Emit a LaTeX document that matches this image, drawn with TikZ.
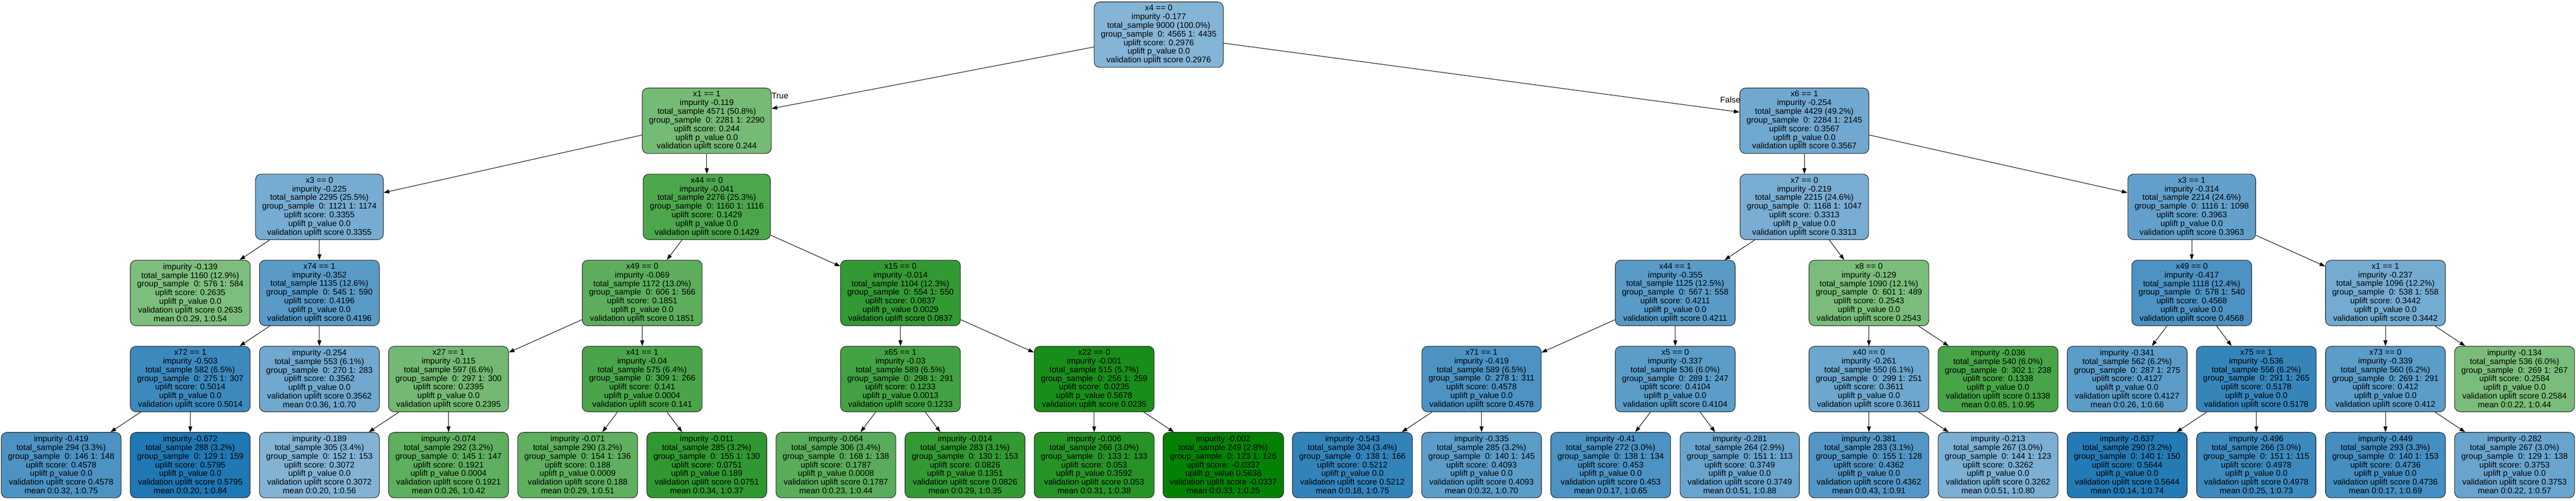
\documentclass[tikz,border=0pt]{standalone}
\usepackage{fontspec}
\setmainfont{Liberation Sans}
\usetikzlibrary{arrows.meta}
\definecolor{tabblue}{HTML}{1F77B4}
\definecolor{darkgreen}{HTML}{008000}
\tikzstyle{arrow} = [line width=1.2pt,-{Triangle[length=13pt,width=9pt]}]
\tikzset{
treenode/.style={rectangle, rounded corners=13pt, draw=black!85, line width=1.3pt, align=center, minimum height=151pt, inner xsep=15.5pt, font=\fontsize{19}{20}\selectfont},
bluenode/.style={treenode, fill=tabblue!#1!white},
greennode/.style={treenode, fill=darkgreen!#1!white},
edgelabel/.style={inner sep=0pt, font=\fontsize{19}{20}\selectfont}}
\newcommand{\condtext}[7]{#1\\impurity #2\\total\_sample #3\\group\_sample~ 0: #4 1: #5\\uplift score: #6\\uplift p\_value #7\\validation uplift score #6}
\newcommand{\leaftext}[7]{impurity #1\\total\_sample #2\\group\_sample~ 0: #3 1: #4\\uplift score: #5\\uplift p\_value #6\\validation uplift score #5\\mean #7}

\begin{document}
\begin{tikzpicture}[x=297.7pt, y=-198.6pt]
\useasboundingbox (-0.47363,-0.40282) rectangle (19.4760,5.41289);
%Nodes
\node[bluenode=55]  (x4)   at (8.5,0)  {\condtext{x4 == 0}{-0.177}{9000 (100.0\%)}{4565}{4435}{0.2976}{0.0}};

\node[greennode=54] (x1)   at (5,1)    {\condtext{x1 == 1}{-0.119}{4571 (50.8\%)}{2281}{2290}{0.244}{0.0}};
\node[bluenode=64]  (x6)   at (13.5,1) {\condtext{x6 == 1}{-0.254}{4429 (49.2\%)}{2284}{2145}{0.3567}{0.0}};

\node[bluenode=61]  (x3a)  at (2,2)    {\condtext{x3 == 0}{-0.225}{2295 (25.5\%)}{1121}{1174}{0.3355}{0.0}};
\node[greennode=70] (x44a) at (5,2)    {\condtext{x44 == 0}{-0.041}{2276 (25.3\%)}{1160}{1116}{0.1429}{0.0}};
\node[bluenode=60]  (x7)   at (13.5,2) {\condtext{x7 == 0}{-0.219}{2215 (24.6\%)}{1168}{1047}{0.3313}{0.0}};
\node[bluenode=70]  (x3b)  at (16.5,2) {\condtext{x3 == 1}{-0.314}{2214 (24.6\%)}{1116}{1098}{0.3963}{0.0}};

\node[greennode=51] (leafA) at (1,3)   {\leaftext{-0.139}{1160 (12.9\%)}{576}{584}{0.2635}{0.0}{0:0.29, 1:0.54}};
\node[bluenode=74]  (x74)  at (2,3)    {\condtext{x74 == 1}{-0.352}{1135 (12.6\%)}{545}{590}{0.4196}{0.0}};
\node[greennode=64] (x49a) at (4.5,3)  {\condtext{x49 == 0}{-0.069}{1172 (13.0\%)}{606}{566}{0.1851}{0.0}};
\node[greennode=80] (x15)  at (6.5,3)  {\condtext{x15 == 0}{-0.014}{1104 (12.3\%)}{554}{550}{0.0837}{0.0029}};
\node[bluenode=74]  (x44b) at (12.5,3) {\condtext{x44 == 1}{-0.355}{1125 (12.5\%)}{567}{558}{0.4211}{0.0}};
\node[greennode=52] (x8)   at (14,3)   {\condtext{x8 == 0}{-0.129}{1090 (12.1\%)}{601}{489}{0.2543}{0.0}};
\node[bluenode=80]  (x49b) at (16.5,3) {\condtext{x49 == 0}{-0.417}{1118 (12.4\%)}{578}{540}{0.4568}{0.0}};
\node[bluenode=62]  (x1b)  at (18,3)   {\condtext{x1 == 1}{-0.237}{1096 (12.2\%)}{538}{558}{0.3442}{0.0}};

\node[bluenode=87]  (x72)  at (1,4)    {\condtext{x72 == 1}{-0.503}{582 (6.5\%)}{275}{307}{0.5014}{0.0}};
\node[bluenode=64]  (leafB) at (2,4)   {\leaftext{-0.254}{553 (6.1\%)}{270}{283}{0.3562}{0.0}{0:0.36, 1:0.70}};
\node[greennode=55] (x27)  at (3,4)    {\condtext{x27 == 1}{-0.115}{597 (6.6\%)}{297}{300}{0.2395}{0.0}};
\node[greennode=71] (x41)  at (4.5,4)  {\condtext{x41 == 1}{-0.04}{575 (6.4\%)}{309}{266}{0.141}{0.0004}};
\node[greennode=74] (x65)  at (6.5,4)  {\condtext{x65 == 1}{-0.03}{589 (6.5\%)}{298}{291}{0.1233}{0.0013}};
\node[greennode=90] (x22)  at (8,4)    {\condtext{x22 == 0}{-0.001}{515 (5.7\%)}{256}{259}{0.0235}{0.5678}};
\node[bluenode=80]  (x71)  at (11,4)   {\condtext{x71 == 1}{-0.419}{589 (6.5\%)}{278}{311}{0.4578}{0.0}};
\node[bluenode=73]  (x5)   at (12.5,4) {\condtext{x5 == 0}{-0.337}{536 (6.0\%)}{289}{247}{0.4104}{0.0}};
\node[bluenode=65]  (x40)  at (14,4)   {\condtext{x40 == 0}{-0.261}{550 (6.1\%)}{299}{251}{0.3611}{0.0}};
\node[greennode=72] (leafC) at (15,4)  {\leaftext{-0.036}{540 (6.0\%)}{302}{238}{0.1338}{0.0}{0:0.85, 1:0.95}};
\node[bluenode=73]  (leafD) at (16,4)  {\leaftext{-0.341}{562 (6.2\%)}{287}{275}{0.4127}{0.0}{0:0.26, 1:0.66}};
\node[bluenode=90]  (x75)  at (17,4)   {\condtext{x75 == 1}{-0.536}{556 (6.2\%)}{291}{265}{0.5178}{0.0}};
\node[bluenode=73]  (x73)  at (18,4)   {\condtext{x73 == 0}{-0.339}{560 (6.2\%)}{269}{291}{0.412}{0.0}};
\node[greennode=52] (leafE) at (19,4)  {\leaftext{-0.134}{536 (6.0\%)}{269}{267}{0.2584}{0.0}{0:0.22, 1:0.44}};

\node[bluenode=80]  (l0)  at (0,5)  {\leaftext{-0.419}{294 (3.3\%)}{146}{148}{0.4578}{0.0}{0:0.32, 1:0.75}};
\node[bluenode=100] (l1)  at (1,5)  {\leaftext{-0.672}{288 (3.2\%)}{129}{159}{0.5795}{0.0}{0:0.20, 1:0.84}};
\node[bluenode=56]  (l2)  at (2,5)  {\leaftext{-0.189}{305 (3.4\%)}{152}{153}{0.3072}{0.0}{0:0.20, 1:0.56}};
\node[greennode=63] (l3)  at (3,5)  {\leaftext{-0.074}{292 (3.2\%)}{145}{147}{0.1921}{0.0004}{0:0.26, 1:0.42}};
\node[greennode=63] (l4)  at (4,5)  {\leaftext{-0.071}{290 (3.2\%)}{154}{136}{0.188}{0.0009}{0:0.29, 1:0.51}};
\node[greennode=81] (l5)  at (5,5)  {\leaftext{-0.011}{285 (3.2\%)}{155}{130}{0.0751}{0.189}{0:0.34, 1:0.37}};
\node[greennode=65] (l6)  at (6,5)  {\leaftext{-0.064}{306 (3.4\%)}{168}{138}{0.1787}{0.0008}{0:0.23, 1:0.44}};
\node[greennode=80] (l7)  at (7,5)  {\leaftext{-0.014}{283 (3.1\%)}{130}{153}{0.0826}{0.1351}{0:0.29, 1:0.35}};
\node[greennode=85] (l8)  at (8,5)  {\leaftext{-0.006}{266 (3.0\%)}{133}{133}{0.053}{0.3592}{0:0.31, 1:0.38}};
\node[greennode=99] (l9)  at (9,5)  {\leaftext{-0.002}{249 (2.8\%)}{123}{126}{-0.0337}{0.5638}{0:0.33, 1:0.25}};
\node[bluenode=91]  (l10) at (10,5) {\leaftext{-0.543}{304 (3.4\%)}{138}{166}{0.5212}{0.0}{0:0.18, 1:0.75}};
\node[bluenode=73]  (l11) at (11,5) {\leaftext{-0.335}{285 (3.2\%)}{140}{145}{0.4093}{0.0}{0:0.32, 1:0.70}};
\node[bluenode=80]  (l12) at (12,5) {\leaftext{-0.41}{272 (3.0\%)}{138}{134}{0.453}{0.0}{0:0.17, 1:0.65}};
\node[bluenode=67]  (l13) at (13,5) {\leaftext{-0.281}{264 (2.9\%)}{151}{113}{0.3749}{0.0}{0:0.51, 1:0.88}};
\node[bluenode=77]  (l14) at (14,5) {\leaftext{-0.381}{283 (3.1\%)}{155}{128}{0.4362}{0.0}{0:0.43, 1:0.91}};
\node[bluenode=59]  (l15) at (15,5) {\leaftext{-0.213}{267 (3.0\%)}{144}{123}{0.3262}{0.0}{0:0.51, 1:0.80}};
\node[bluenode=98]  (l16) at (16,5) {\leaftext{-0.637}{290 (3.2\%)}{140}{150}{0.5644}{0.0}{0:0.14, 1:0.74}};
\node[bluenode=87]  (l17) at (17,5) {\leaftext{-0.496}{266 (3.0\%)}{151}{115}{0.4978}{0.0}{0:0.25, 1:0.73}};
\node[bluenode=83]  (l18) at (18,5) {\leaftext{-0.449}{293 (3.3\%)}{140}{153}{0.4736}{0.0}{0:0.17, 1:0.69}};
\node[bluenode=67]  (l19) at (19,5) {\leaftext{-0.282}{267 (3.0\%)}{129}{138}{0.3753}{0.0}{0:0.22, 1:0.57}};

\node[edgelabel, anchor=west] (lblTrue)  at ([yshift=-19pt]x1.north east) {True};
\node[edgelabel, anchor=east] (lblFalse) at ([xshift=2pt,yshift=-28pt]x6.north west) {False};

%Lines
\path[arrow] (x4) edge (x1) edge (x6);
\path[arrow] (x1) edge (x3a) edge (x44a);
\path[arrow] (x6) edge (x7) edge (x3b);
\path[arrow] (x3a) edge (leafA) edge (x74);
\path[arrow] (x74) edge (x72) edge (leafB);
\path[arrow] (x72) edge (l0) edge (l1);
\path[arrow] (x44a) edge (x49a) edge (x15);
\path[arrow] (x49a) edge (x27) edge (x41);
\path[arrow] (x27) edge (l2) edge (l3);
\path[arrow] (x41) edge (l4) edge (l5);
\path[arrow] (x15) edge (x65) edge (x22);
\path[arrow] (x65) edge (l6) edge (l7);
\path[arrow] (x22) edge (l8) edge (l9);
\path[arrow] (x7) edge (x44b) edge (x8);
\path[arrow] (x44b) edge (x71) edge (x5);
\path[arrow] (x71) edge (l10) edge (l11);
\path[arrow] (x5) edge (l12) edge (l13);
\path[arrow] (x8) edge (x40) edge (leafC);
\path[arrow] (x40) edge (l14) edge (l15);
\path[arrow] (x3b) edge (x49b) edge (x1b);
\path[arrow] (x49b) edge (leafD) edge (x75);
\path[arrow] (x75) edge (l16) edge (l17);
\path[arrow] (x1b) edge (x73) edge (leafE);
\path[arrow] (x73) edge (l18) edge (l19);
\end{tikzpicture}
\end{document}
